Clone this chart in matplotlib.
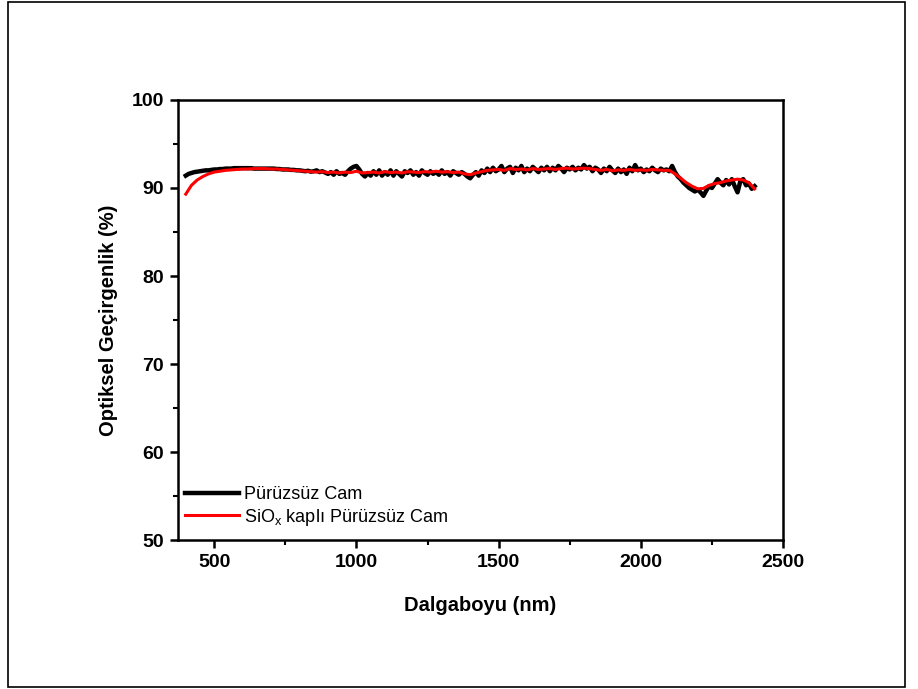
import numpy as np
import matplotlib.pyplot as plt
from matplotlib.patches import Rectangle
from matplotlib.ticker import MultipleLocator

plt.rcParams['font.family'] = ['Liberation Sans', 'DejaVu Sans']

# wavelength grids (nm)
wl_plain = np.arange(400, 2401, 10)
wl_coated = np.arange(400, 2401, 20)

# Pürüzsüz Cam, 10 nm step
t_plain = [
    91.4, 91.6, 91.7, 91.8, 91.85, 91.9, 91.95, 92.0, 92.0, 92.05,
    92.1, 92.1, 92.15, 92.15, 92.2, 92.2, 92.2, 92.25, 92.25, 92.25,
    92.25, 92.25, 92.25, 92.25, 92.2, 92.2, 92.2, 92.2, 92.2, 92.2,
    92.2, 92.2, 92.15, 92.15, 92.1, 92.1, 92.1, 92.05, 92.05, 92.0,
    92.0, 91.95, 91.9, 91.95, 91.85, 91.9, 92.0, 91.8, 91.9, 91.75,
    91.6, 91.8, 91.5, 91.9, 91.6, 91.7, 91.5, 91.9, 92.2, 92.4,
    92.5, 92.1, 91.6, 91.3, 91.7, 91.4, 91.9, 91.5, 92.0, 91.4,
    91.8, 91.5, 92.0, 91.4, 91.9, 91.6, 91.3, 91.9, 91.7, 92.0,
    91.5, 91.8, 91.4, 92.0, 91.7, 91.5, 91.9, 91.6, 91.8, 91.5,
    92.0, 91.6, 91.8, 91.4, 91.9, 91.7, 91.5, 91.8, 91.6, 91.3,
    91.1, 91.5, 91.8, 91.4, 92.0, 91.7, 92.2, 91.8, 92.3, 91.9,
    92.1, 92.5, 91.8, 92.2, 92.4, 91.7, 92.3, 92.0, 92.5, 91.8,
    92.2, 91.9, 92.4, 92.1, 91.8, 92.3, 92.0, 92.4, 91.9, 92.3,
    92.0, 92.5, 92.2, 91.8, 92.3, 92.1, 92.4, 92.0, 92.3, 92.1,
    92.6, 92.2, 92.4, 91.9, 92.3, 92.1, 91.7, 92.2, 91.9, 92.4,
    92.0, 91.7, 92.2, 91.8, 92.1, 91.6, 92.3, 91.9, 92.6, 92.0,
    92.2, 91.8, 92.1, 91.9, 92.3, 92.0, 91.8, 92.2, 92.0, 92.1,
    91.9, 92.5, 91.8, 91.3, 91.0, 90.6, 90.3, 90.0, 89.8, 89.6,
    89.8, 89.5, 89.1, 89.7, 90.2, 90.0, 90.5, 91.0, 90.6, 90.3,
    90.9, 90.4, 91.0, 90.2, 89.5, 90.8, 91.0, 90.3, 90.5, 89.9,
    90.2,
]

# SiOx kaplı Pürüzsüz Cam, 20 nm step
t_coated = [
    89.3, 90.3, 90.9, 91.3, 91.6, 91.8, 91.9, 92.0, 92.05, 92.1,
    92.15, 92.15, 92.2, 92.2, 92.2, 92.15, 92.15, 92.1, 92.05, 92.0,
    91.95, 91.9, 91.85, 91.8, 91.85, 91.75, 91.8, 91.7, 91.8, 91.75,
    91.9, 91.7, 91.75, 91.8, 91.7, 91.85, 91.75, 91.8, 91.7, 91.85,
    91.8, 91.75, 91.85, 91.8, 91.9, 91.8, 91.85, 91.75, 91.8, 91.6,
    91.5, 91.7, 91.85, 92.0, 92.05, 92.1, 92.0, 92.2, 92.1, 92.15,
    92.05, 92.2, 92.1, 92.15, 92.2, 92.1, 92.2, 92.25, 92.15, 92.2,
    92.25, 92.2, 92.1, 92.0, 92.1, 91.95, 92.05, 92.0, 92.1, 92.0,
    92.05, 92.0, 92.1, 92.05, 92.0, 92.0, 91.6, 91.1, 90.6, 90.2,
    89.9, 89.95, 90.3, 90.5, 90.6, 90.8, 90.9, 91.0, 90.9, 90.6,
    89.9,
]

fig = plt.figure(figsize=(9.18, 6.89), dpi=100)
ax = fig.add_axes([0.194, 0.216, 0.659, 0.639])

ax.plot(wl_plain, t_plain, color='black', lw=3.2, label='Pürüzsüz Cam')
ax.plot(wl_coated, t_coated, color='red', lw=2.2,
        label='SiO$_{\\mathregular{x}}$ kaplı Pürüzsüz Cam')

ax.set_xlim(373, 2500)
ax.set_ylim(50, 100)
ax.xaxis.set_major_locator(MultipleLocator(500))
ax.xaxis.set_minor_locator(MultipleLocator(250))
ax.yaxis.set_major_locator(MultipleLocator(10))
ax.yaxis.set_minor_locator(MultipleLocator(5))
ax.tick_params(which='major', direction='out', length=6, width=1.8,
               labelsize=14, pad=4)
ax.tick_params(which='minor', direction='out', length=3.5, width=1.5)
for lab in ax.get_xticklabels() + ax.get_yticklabels():
    lab.set_fontweight('bold')
for sp in ax.spines.values():
    sp.set_linewidth(1.8)

ax.set_xlabel('Dalgaboyu (nm)', fontsize=14.5, fontweight='bold', labelpad=18)
ax.set_ylabel('Optiksel Geçirgenlik (%)', fontsize=14.5, fontweight='bold',
              labelpad=10)

ax.legend(loc='lower left', bbox_to_anchor=(-0.01, 0.0), frameon=False,
          fontsize=13, handlelength=3.0, handletextpad=0.3,
          labelspacing=0.2, borderaxespad=0.3)

# outer frame around the whole picture
fig.patches.append(Rectangle((8 / 918, 2 / 689), 897 / 918, 685 / 689,
                             transform=fig.transFigure, fill=False,
                             edgecolor='black', lw=1.2))

fig.savefig('out.png', dpi=100)
